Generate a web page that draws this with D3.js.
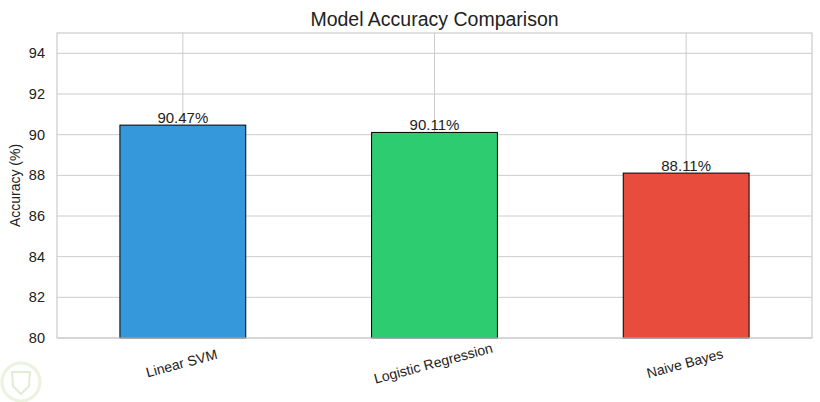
<!DOCTYPE html>
<html>
<head>
<meta charset="utf-8">
<script src="https://cdn.jsdelivr.net/npm/d3@7"></script>
<style>
  body { margin: 0; background: #fff; }
  text { font-family: "Liberation Sans", Arial, sans-serif; }
</style>
</head>
<body>
<div id="chart"></div>
<script>
const models = ["Linear SVM", "Logistic Regression", "Naive Bayes"];
const accuracy = [90.47, 90.11, 88.11];
const barColors = ["#3498db", "#2ecc71", "#e74c3c"];
const yTicks = [80, 82, 84, 86, 88, 90, 92, 94];

const W = 820, H = 402;
const margin = { top: 33, right: 8, bottom: 64, left: 57 };
const width = W - margin.left - margin.right;
const height = H - margin.top - margin.bottom;

const svg = d3.select("#chart").append("svg")
    .attr("width", W)
    .attr("height", H);

const g = svg.append("g")
    .attr("transform", `translate(${margin.left},${margin.top})`);

const x = d3.scaleBand()
    .domain(models)
    .range([0, width])
    .paddingInner(0.5)
    .paddingOuter(0.25);

const y = d3.scaleLinear()
    .domain([80, 95])
    .range([height, 0]);

// grid
g.append("g")
    .selectAll("line.h")
    .data(yTicks)
    .join("line")
    .attr("x1", 0).attr("x2", width)
    .attr("y1", d => y(d)).attr("y2", d => y(d))
    .attr("stroke", "#cccccc").attr("stroke-width", 1);

g.append("g")
    .selectAll("line.v")
    .data(models)
    .join("line")
    .attr("x1", d => x(d) + x.bandwidth() / 2)
    .attr("x2", d => x(d) + x.bandwidth() / 2)
    .attr("y1", 0).attr("y2", height)
    .attr("stroke", "#cccccc").attr("stroke-width", 1);

// bars
g.selectAll("rect.bar")
    .data(models)
    .join("rect")
    .attr("class", "bar")
    .attr("x", d => x(d))
    .attr("width", x.bandwidth())
    .attr("y", (d, i) => y(accuracy[i]))
    .attr("height", (d, i) => y(80) - y(accuracy[i]))
    .attr("fill", (d, i) => barColors[i])
    .attr("stroke", "#000")
    .attr("stroke-width", 1);

// value labels
g.selectAll("text.val")
    .data(models)
    .join("text")
    .attr("x", d => x(d) + x.bandwidth() / 2)
    .attr("y", (d, i) => y(accuracy[i]) - 2)
    .attr("text-anchor", "middle")
    .attr("font-size", 15)
    .attr("fill", "#222")
    .text((d, i) => accuracy[i].toFixed(2) + "%");

// frame
g.append("rect")
    .attr("width", width).attr("height", height)
    .attr("fill", "none")
    .attr("stroke", "#cccccc").attr("stroke-width", 1.2);

// y axis
const yAxis = g.append("g")
    .call(d3.axisLeft(y).tickValues(yTicks).tickSize(0).tickPadding(12));
yAxis.select(".domain").remove();
yAxis.selectAll("text")
    .attr("font-size", 14.5)
    .attr("fill", "#222")
    .style("font-family", "'Liberation Sans', Arial, sans-serif");

// x axis
const xAxis = g.append("g")
    .attr("transform", `translate(0,${height})`)
    .call(d3.axisBottom(x).tickSize(0).tickPadding(0));
xAxis.select(".domain").remove();
xAxis.selectAll("text")
    .attr("font-size", 14)
    .attr("fill", "#222")
    .style("font-family", "'Liberation Sans', Arial, sans-serif")
    .attr("y", 0).attr("dy", 0)
    .attr("transform", "translate(0,30) rotate(-15)")
    .attr("text-anchor", "middle");

// y label
svg.append("text")
    .attr("transform", `translate(20,${margin.top + height / 2}) rotate(-90)`)
    .attr("text-anchor", "middle")
    .attr("font-size", 14)
    .attr("fill", "#222")
    .text("Accuracy (%)");

// title
svg.append("text")
    .attr("x", margin.left + width / 2)
    .attr("y", 26)
    .attr("text-anchor", "middle")
    .attr("font-size", 19.5)
    .attr("fill", "#222")
    .text("Model Accuracy Comparison");

// faint watermark
const wm = svg.append("g").attr("transform", "translate(21,382)").attr("opacity", 0.35);
wm.append("circle").attr("r", 19).attr("fill", "none").attr("stroke", "#c8dca0").attr("stroke-width", 3);
wm.append("path").attr("d", "M-9,-10 L9,-10 L8,4 Q0,12 0,12 Q-8,4 -8,4 Z")
    .attr("fill", "none").attr("stroke", "#b0c890").attr("stroke-width", 2);
</script>
</body>
</html>
